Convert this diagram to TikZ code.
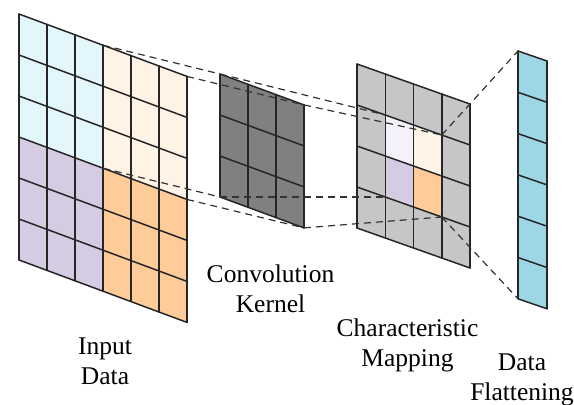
\documentclass[tikz,border=0pt]{standalone}
\usepackage{fontspec}
\setmainfont{Liberation Serif}
\newfontfamily\capfont{Liberation Serif}
\usetikzlibrary{calc}
\definecolor{inA}{HTML}{E3F6FB}
\definecolor{inB}{HTML}{FFF3E6}
\definecolor{inC}{HTML}{D5CCE3}
\definecolor{inD}{HTML}{FFCC99}
\definecolor{kern}{HTML}{808080}
\definecolor{fmap}{HTML}{C6C6C6}
\definecolor{fmapA}{HTML}{F4F1FA}
\definecolor{flat}{HTML}{9DD7E6}

\begin{document}
\begin{tikzpicture}[x=1pt,y=-1pt,
  grid/.style={line width=1.5pt,color=black!85,line cap=round},
  link/.style={dash pattern=on 7pt off 5pt,line width=1.2pt,color=black!80},
  lbl/.style={font=\capfont\fontsize{25.5}{30}\selectfont,align=center,inner sep=0pt,anchor=base}]
\useasboundingbox (0,0) rectangle (574,405);

% input data
\fill[inA] (19,14) -- ++(84,31.2) -- ++(0,123) -- ++(-84,-31.2) -- cycle;
\fill[inB] (103,45.2) -- ++(84,31.2) -- ++(0,123) -- ++(-84,-31.2) -- cycle;
\fill[inC] (19,137) -- ++(84,31.2) -- ++(0,123) -- ++(-84,-31.2) -- cycle;
\fill[inD] (103,168.2) -- ++(84,31.2) -- ++(0,123) -- ++(-84,-31.2) -- cycle;
\foreach \i in {0,...,6} \draw[grid] (19+28*\i,14+10.4*\i) -- ++(0,246);
\foreach \j in {0,...,6} \draw[grid] (19,14+41*\j) -- ++(168,62.4);

% convolution kernel
\fill[kern] (220,74) -- ++(84,30.9) -- ++(0,123) -- ++(-84,-30.9) -- cycle;
\foreach \i in {0,...,3} \draw[grid] (220+28*\i,74+10.3*\i) -- ++(0,123);
\foreach \j in {0,...,3} \draw[grid] (220,74+41*\j) -- ++(84,30.9);

% characteristic mapping
\fill[fmap] (357,64) -- ++(113,40) -- ++(0,164) -- ++(-113,-40) -- cycle;
\foreach \i/\j/\c in {1/1/fmapA,2/1/inB,1/2/inC,2/2/inD}
  \fill[\c] (357+28.25*\i,64+41*\j+10*\i) -- ++(28.25,10) -- ++(0,41) -- ++(-28.25,-10) -- cycle;
\foreach \i in {0,...,4} \draw[grid] (357+28.25*\i,64+10*\i) -- ++(0,164);
\foreach \j in {0,...,4} \draw[grid] (357,64+41*\j) -- ++(113,40);

% data flattening
\fill[flat] (518,51) -- ++(29,10) -- ++(0,247.8) -- ++(-29,-10) -- cycle;
\foreach \i in {0,1} \draw[grid] (518+29*\i,51+10*\i) -- ++(0,247.8);
\foreach \j in {0,...,6} \draw[grid] (518,51+41.3*\j) -- ++(29,10);

\coordinate (inTL) at (103,45.2);
\coordinate (inTR) at (187,76.4);
\coordinate (inBL) at (103,168.2);
\coordinate (inBR) at (187,199.4);
\coordinate (kTL) at (220,74);
\coordinate (kTR) at (304,104.9);
\coordinate (kBL) at (220,197);
\coordinate (kBR) at (304,227.9);
\coordinate (mTL) at (385.25,115);
\coordinate (mTR) at (441.75,135);
\coordinate (mBL) at (385.25,197);
\coordinate (mBR) at (441.75,217);
\coordinate (fTL) at (518,51);
\coordinate (fBL) at (518,298.8);

\draw[link] (inTL) -- (kTL); \draw[link] (inTR) -- (kTR);
\draw[link] (inBL) -- (kBL); \draw[link] (inBR) -- (kBR);
\draw[link] (kTL) -- (mTL); \draw[link] (kTR) -- (mTR);
\draw[link] (kBL) -- (mBL); \draw[link] (kBR) -- (mBR);
\draw[link] (mTR) -- (fTL); \draw[link] (mBR) -- (fBL);

\node[lbl] (inlbl) at (105,384) {Input\\Data};
\node[lbl] (klbl) at (270.5,312) {Convolution\\Kernel};
\node[lbl] (mlbl) at (407.5,366) {Characteristic\\Mapping};
\node[lbl] (flbl) at (522,400) {Data\\Flattening};
\end{tikzpicture}
\end{document}
